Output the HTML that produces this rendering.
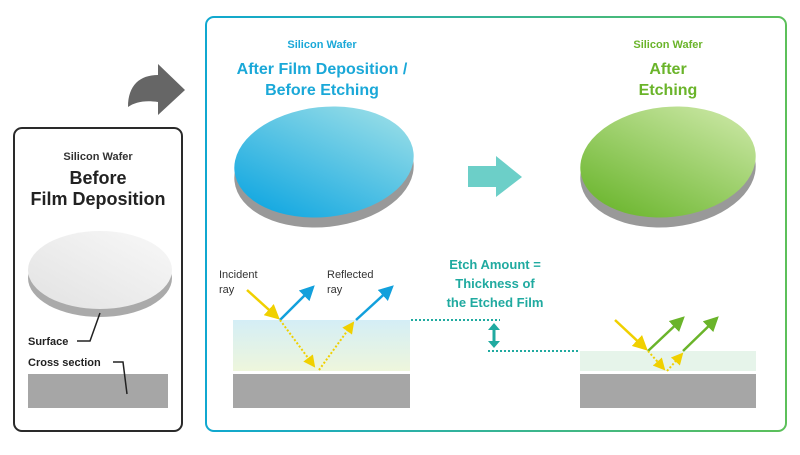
<!DOCTYPE html>
<html><head><meta charset="utf-8"><style>
body{margin:0;background:#fff;width:800px;height:450px;overflow:hidden}
text{font-family:"Liberation Sans",sans-serif;font-weight:bold}
</style></head><body>
<svg width="800" height="450" xmlns="http://www.w3.org/2000/svg">
<defs>
<linearGradient id="bd" x1="0" x2="1"><stop offset="0" stop-color="#10a8d0"/><stop offset="1" stop-color="#5cc05a"/></linearGradient>
<linearGradient id="blue" x1="0" y1="1" x2="1" y2="0"><stop offset="0" stop-color="#00a0e0"/><stop offset="1" stop-color="#a8e4e8"/></linearGradient>
<linearGradient id="green" x1="0" y1="1" x2="1" y2="0"><stop offset="0" stop-color="#60b020"/><stop offset="1" stop-color="#d4ecb0"/></linearGradient>
<linearGradient id="gray" x1="0" y1="1" x2="1" y2="0"><stop offset="0" stop-color="#e2e2e2"/><stop offset="1" stop-color="#f8f8f8"/></linearGradient>
<linearGradient id="film" x1="0" y1="0" x2="0" y2="1"><stop offset="0" stop-color="#d4eef6"/><stop offset="1" stop-color="#eef6dc"/></linearGradient>
<marker id="ay" markerWidth="6" markerHeight="6" refX="5" refY="3" orient="auto"><path d="M0,0L6,3L0,6z" fill="#f0d000"/></marker>
<marker id="ab" markerWidth="6" markerHeight="6" refX="5" refY="3" orient="auto"><path d="M0,0L6,3L0,6z" fill="#12a0dc"/></marker>
<marker id="ag" markerWidth="6" markerHeight="6" refX="5" refY="3" orient="auto"><path d="M0,0L6,3L0,6z" fill="#6ab42a"/></marker>
</defs>
<rect x="206" y="17" width="580" height="414" rx="8" fill="none" stroke="url(#bd)" stroke-width="2"/>
<rect x="14" y="128" width="168" height="303" rx="8" fill="none" stroke="#2a2a2a" stroke-width="2"/>
<path d="M128,107 C128,85 140,75 158,75 L158,64 L185,90 L158,115 L158,102 C145,100 135,102 128,107z" fill="#666"/>
<text x="98" y="160" font-size="11" text-anchor="middle" fill="#333">Silicon Wafer</text>
<text x="98" y="184" font-size="18" text-anchor="middle" fill="#222">Before</text>
<text x="98" y="205" font-size="18" text-anchor="middle" fill="#222">Film Deposition</text>
<ellipse cx="100" cy="278" rx="72" ry="39" fill="#aaa"/>
<ellipse cx="100" cy="270" rx="72" ry="39" fill="url(#gray)"/>
<rect x="28" y="374" width="140" height="34" fill="#a6a6a6"/>
<text x="28" y="345" font-size="11" fill="#222">Surface</text>
<path d="M77,341 L90,341 L100,313" stroke="#222" stroke-width="1.5" fill="none"/>
<text x="28" y="366" font-size="11" fill="#222">Cross section</text>
<path d="M113,362 L123,362 L127,394" stroke="#222" stroke-width="1.5" fill="none"/>
<text x="322" y="48" font-size="11" text-anchor="middle" fill="#1aa8d8">Silicon Wafer</text>
<text x="322" y="74" font-size="16" text-anchor="middle" fill="#1aa8d8">After Film Deposition /</text>
<text x="322" y="95" font-size="16" text-anchor="middle" fill="#1aa8d8">Before Etching</text>
<ellipse cx="324" cy="172" rx="90" ry="55" fill="#999" transform="rotate(-6 324 172)"/>
<ellipse cx="324" cy="162" rx="90" ry="55" fill="url(#blue)" transform="rotate(-6 324 162)"/>
<text x="668" y="48" font-size="11" text-anchor="middle" fill="#6ab42a">Silicon Wafer</text>
<text x="668" y="74" font-size="16" text-anchor="middle" fill="#6ab42a">After</text>
<text x="668" y="95" font-size="16" text-anchor="middle" fill="#6ab42a">Etching</text>
<ellipse cx="668" cy="172" rx="88" ry="55" fill="#999" transform="rotate(-6 668 172)"/>
<ellipse cx="668" cy="162" rx="88" ry="55" fill="url(#green)" transform="rotate(-6 668 162)"/>
<path d="M468,166 L496,166 L496,156 L522,177 L496,197 L496,187 L468,187z" fill="#6ccfc8"/>
<rect x="233" y="320" width="177" height="51" fill="url(#film)"/>
<rect x="233" y="374" width="177" height="34" fill="#a6a6a6"/>
<rect x="580" y="351" width="176" height="20" fill="#e6f4ea"/>
<rect x="580" y="374" width="176" height="34" fill="#a6a6a6"/>
<path d="M411,320 L500,320 M488,351 L579,351" stroke="#20aaa0" stroke-width="2" stroke-dasharray="2,2"/>
<path d="M494,326 L494,345" stroke="#20aaa0" stroke-width="3"/>
<path d="M488,330 L494,323 L500,330z M488,341 L494,348 L500,341z" fill="#20aaa0"/>
<text x="495" y="269" font-size="13" text-anchor="middle" fill="#20aaa0">Etch Amount =</text>
<text x="495" y="288" font-size="13" text-anchor="middle" fill="#20aaa0">Thickness of</text>
<text x="495" y="307" font-size="13" text-anchor="middle" fill="#20aaa0">the Etched Film</text>
<text x="219" y="278" font-size="11" fill="#333" style="font-weight:normal">Incident</text>
<text x="219" y="293" font-size="11" fill="#333" style="font-weight:normal">ray</text>
<text x="327" y="278" font-size="11" fill="#333" style="font-weight:normal">Reflected</text>
<text x="327" y="293" font-size="11" fill="#333" style="font-weight:normal">ray</text>
<line x1="247" y1="290" x2="278" y2="318" stroke="#f0d000" stroke-width="2.5" marker-end="url(#ay)"/>
<line x1="280" y1="320" x2="313" y2="287" stroke="#12a0dc" stroke-width="2.5" marker-end="url(#ab)"/>
<line x1="280" y1="320" x2="314" y2="366" stroke="#f0d000" stroke-width="2" stroke-dasharray="2,2" marker-end="url(#ay)"/>
<line x1="319" y1="370" x2="353" y2="323" stroke="#f0d000" stroke-width="2" stroke-dasharray="2,2" marker-end="url(#ay)"/>
<line x1="356" y1="320" x2="392" y2="287" stroke="#12a0dc" stroke-width="2.5" marker-end="url(#ab)"/>
<line x1="615" y1="320" x2="646" y2="349" stroke="#f0d000" stroke-width="2.5" marker-end="url(#ay)"/>
<line x1="648" y1="351" x2="683" y2="318" stroke="#6ab42a" stroke-width="2.5" marker-end="url(#ag)"/>
<line x1="648" y1="351" x2="664" y2="369" stroke="#f0d000" stroke-width="2" stroke-dasharray="2,2" marker-end="url(#ay)"/>
<line x1="667" y1="371" x2="682" y2="354" stroke="#f0d000" stroke-width="2" stroke-dasharray="2,2" marker-end="url(#ay)"/>
<line x1="683" y1="351" x2="717" y2="318" stroke="#6ab42a" stroke-width="2.5" marker-end="url(#ag)"/>
</svg>
</body></html>
